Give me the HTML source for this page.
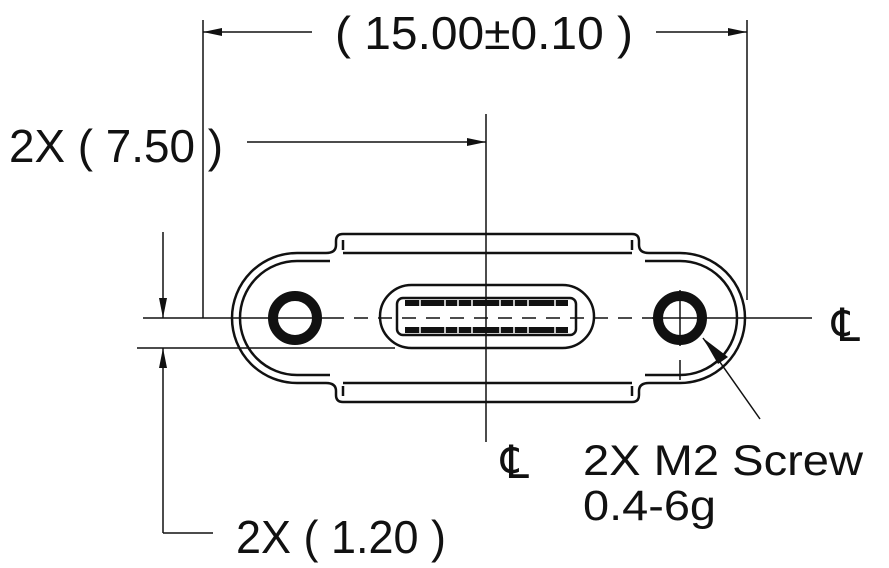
<!DOCTYPE html>
<html><head><meta charset="utf-8"><style>
html,body{margin:0;padding:0;background:#fff;}
svg{display:block;}
text{font-family:"Liberation Sans",sans-serif;fill:#111;}
</style></head><body>
<svg width="889" height="568" viewBox="0 0 889 568" xmlns="http://www.w3.org/2000/svg">
<g stroke="#111" fill="none" stroke-width="1.5">
<line x1="203" y1="20" x2="203" y2="318"/>
<line x1="747" y1="20" x2="747" y2="300"/>
<line x1="486" y1="114" x2="486" y2="442"/>
<line x1="203" y1="32" x2="312" y2="32"/>
<line x1="656" y1="32" x2="747" y2="32"/>
<line x1="247" y1="142" x2="486" y2="142"/>
<line x1="143" y1="318" x2="330" y2="318"/>
<line x1="330" y1="318" x2="660" y2="318" stroke-dasharray="14 10"/>
<line x1="652" y1="318" x2="812" y2="318"/>
<line x1="680" y1="290" x2="680" y2="346"/>
<line x1="680" y1="360" x2="680" y2="380"/>
<line x1="137" y1="348" x2="395" y2="348"/>
<line x1="163" y1="232" x2="163" y2="318"/>
<line x1="163" y1="348" x2="163" y2="533"/>
<line x1="163" y1="533" x2="213" y2="533"/>
<line x1="703" y1="338" x2="760" y2="419"/>
</g>
<g fill="#111">
<polygon points="203,32 222,28 222,36"/>
<polygon points="747,32 728,28 728,36"/>
<polygon points="486,142 467,138 467,146"/>
<polygon points="163,318 159,298 167,298"/>
<polygon points="163,348 159,368 167,368"/>
<polygon points="703,338 728,357 718,364"/>
</g>
<g stroke="#111" fill="none" stroke-width="2.5">
<path d="M297 253 L326 253 Q336 253 336 245 L336 241 Q336 234 343 234 L632 234 Q639 234 639 241 L639 245 Q639 253 649 253 L680 253 A65 65 0 0 1 680 383 L649 383 Q639 383 639 391 L639 395 Q639 402 632 402 L343 402 Q336 402 336 395 L336 391 Q336 383 326 383 L297 383 A65 65 0 0 1 297 253 Z"/>
<path d="M330 261 L297 261 A57 57 0 0 0 297 375 L330 375"/>
<path d="M645 261 L680 261 A57 57 0 0 1 680 375 L645 375"/>
<line x1="343" y1="253" x2="632" y2="253"/>
<line x1="343" y1="383" x2="632" y2="383"/>
<line x1="343" y1="240" x2="343" y2="250"/>
<line x1="632" y1="240" x2="632" y2="250"/>
<line x1="343" y1="386" x2="343" y2="396"/>
<line x1="632" y1="386" x2="632" y2="396"/>
<rect x="380" y="285" width="214" height="63" rx="31.5"/>
<rect x="397" y="298" width="179" height="37" rx="6"/>
</g>
<g fill="#111">
<rect x="405" y="300" width="163" height="6"/>
<rect x="405" y="327" width="163" height="6"/>
</g>
<g stroke="#fff" stroke-width="1.5">
<line x1="420" y1="300" x2="420" y2="306"/><line x1="445" y1="300" x2="445" y2="306"/><line x1="458" y1="300" x2="458" y2="306"/><line x1="472" y1="300" x2="472" y2="306"/><line x1="500" y1="300" x2="500" y2="306"/><line x1="514" y1="300" x2="514" y2="306"/><line x1="528" y1="300" x2="528" y2="306"/><line x1="555" y1="300" x2="555" y2="306"/>
<line x1="420" y1="327" x2="420" y2="333"/><line x1="445" y1="327" x2="445" y2="333"/><line x1="458" y1="327" x2="458" y2="333"/><line x1="472" y1="327" x2="472" y2="333"/><line x1="500" y1="327" x2="500" y2="333"/><line x1="514" y1="327" x2="514" y2="333"/><line x1="528" y1="327" x2="528" y2="333"/><line x1="555" y1="327" x2="555" y2="333"/>
</g>
<g stroke="#111" fill="none" stroke-width="10">
<circle cx="295" cy="318" r="22"/>
<circle cx="680" cy="318" r="22"/>
</g>
<text x="335" y="49" font-size="46" textLength="298" lengthAdjust="spacingAndGlyphs">( 15.00±0.10 )</text>
<text x="9" y="162" font-size="46" textLength="214" lengthAdjust="spacingAndGlyphs">2X ( 7.50 )</text>
<text x="236" y="553" font-size="46" textLength="210" lengthAdjust="spacingAndGlyphs">2X ( 1.20 )</text>
<text x="583" y="475" font-size="43" textLength="280" lengthAdjust="spacingAndGlyphs">2X M2 Screw</text>
<text x="583" y="520" font-size="43" textLength="133" lengthAdjust="spacingAndGlyphs">0.4-6g</text>
<text x="832" y="341" font-size="46" textLength="28" lengthAdjust="spacingAndGlyphs">&#x2104;</text>
<text x="501" y="478" font-size="46" textLength="28" lengthAdjust="spacingAndGlyphs">&#x2104;</text>
</svg>
</body></html>
